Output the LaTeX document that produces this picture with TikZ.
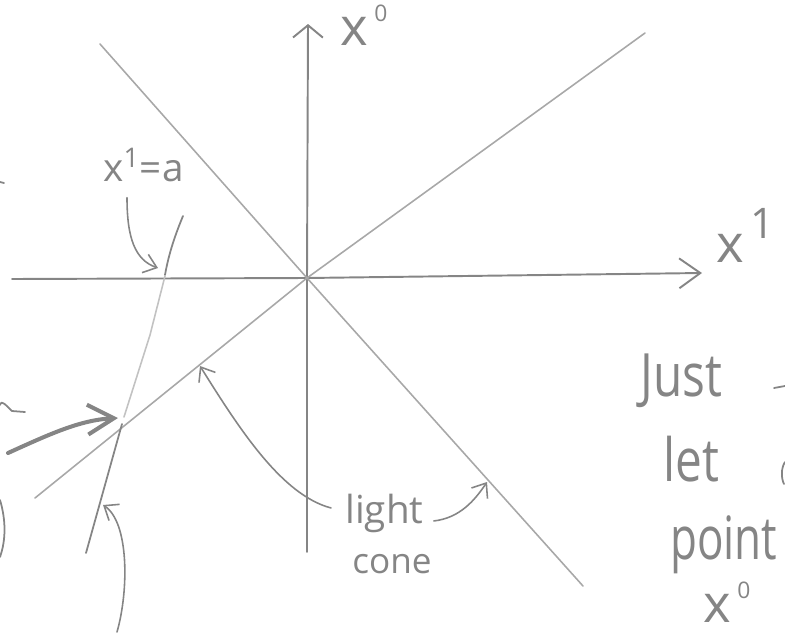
\documentclass[tikz,border=0pt]{standalone}
\usepackage{fontspec}
\setmainfont{Open Sans}
\usetikzlibrary{arrows.meta}
\definecolor{pencil}{gray}{0.52}
\definecolor{pencillt}{gray}{0.66}
\definecolor{pencilfaint}{gray}{0.76}
\newcommand{\hsup}[2][13]{\hspace{0.12em}\raisebox{0.45em}{\fontsize{#1}{#1}\selectfont #2}}

\begin{document}
\begin{tikzpicture}[
    x=0.02cm, y=-0.02cm,
    axis/.style={pencil, line width=1.1pt, line cap=round},
    cone/.style={pencillt, line width=0.9pt, line cap=round},
    world/.style={pencil, line width=1pt, line cap=round},
    ptr/.style={pencil, line width=0.9pt, line cap=round, -{Straight Barb[length=7pt,width=11pt]}},
    bigptr/.style={pencil, line width=2.3pt, line cap=round, -{Straight Barb[length=15pt,width=17pt]}},
    hand/.style={text=pencil, inner sep=0pt},
    note/.style={hand, font=\fontsize{34}{38}\selectfont, xscale=0.8, anchor=base west},
    lbl/.style={hand, font=\fontsize{22}{24}\selectfont, anchor=base west},
    axlbl/.style={hand, font=\fontsize{30}{32}\selectfont, anchor=base west},
]
\useasboundingbox (0,0) rectangle (785,636);
\coordinate (O) at (307,278);

% axes
\draw[axis, -{Straight Barb[length=7pt,width=17pt]}] (307,552) -- (O) -- (308,24);
\draw[axis, -{Straight Barb[length=12pt,width=17pt]}] (12,279) -- (O) -- (702,273);
\node[axlbl] (xzero) at (340,45) {x\hsup{0}};
\node[axlbl] (xone) at (716,262) {x\hsup[24]{1}};

% light cone
\draw[cone] (100,44) -- (O) -- (583,586);
\draw[cone] (645,33) -- (O) -- (35,498);

% worldline x^1 = a
\draw[world] (183,216) .. controls (173,240) and (168,258) .. (165,275);
\draw[cone, pencilfaint] (165,276) -- (150,335) -- (124,417);
\draw[world] (122,424) -- (86,553);

% labels and pointers
\node[lbl] (xa) at (103,181) {x\textsuperscript{1}=a};
\coordinate (xahit) at (158,268);
\draw[ptr] (xa.south west) ++(24,16) .. controls (127,238) and (135,260) .. (xahit);

\node[lbl] (light) at (345,523) {light};
\node[lbl, font=\fontsize{20}{22}\selectfont] (cone) at (352,573) {cone};
\coordinate (conehitL) at (200,366);
\coordinate (conehitR) at (487,482);
\draw[ptr] (light.west) ++(-14,-5) .. controls (282,495) and (240,430) .. (conehitL);
\draw[ptr] (light.east) ++(10,8) .. controls (460,518) and (475,500) .. (conehitR);

\coordinate (evt) at (118,418);
\draw[bigptr] (8,453) .. controls (50,434) and (80,420) .. (evt);
\coordinate (linehit) at (103,505);
\draw[ptr] (117,632) .. controls (129,590) and (129,522) .. (linehit);

% text on the right
\node[note] (just) at (640,396) {Just};
\node[note] (let) at (663,481) {let};
\node[note, xscale=0.92] (point) at (670,559) {point};
\node[axlbl] (xzerob) at (703,622) {x\hsup{0}};

% bits of words cut at the edges
\draw[world] (774,388) -- (785,386);
\draw[world] (785,462) .. controls (781,468) and (781,478) .. (784,484);
\draw[world] (0,405) .. controls (2,399) and (6,406) .. (12,411) -- (25,412);
\draw[world] (0,500) .. controls (6,520) and (6,540) .. (0,557);
\draw[world] (0,182) -- (4,183);
\end{tikzpicture}
\end{document}
